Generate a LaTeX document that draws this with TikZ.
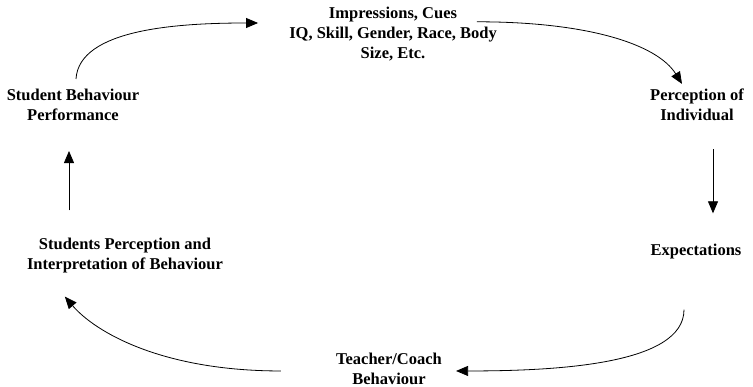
\documentclass[tikz,border=0pt]{standalone}
\usepackage{fontspec}
\setmainfont{Liberation Serif}
\usetikzlibrary{arrows.meta,calc}
\begin{document}
\begin{tikzpicture}[x=1pt,y=-1pt,
  lbl/.style={align=center,font=\bfseries\fontsize{16.5}{20}\selectfont,inner sep=0pt},
  arr/.style={-{Triangle[length=12pt,width=10pt]},line width=0.8pt}]
\useasboundingbox (0,0) rectangle (753,387);
\node[lbl] (imp) at (393,34) {Impressions, Cues\\IQ, Skill, Gender, Race, Body\\Size, Etc.};
\node[lbl] (pi) at (697,105) {Perception of\\Individual};
\node[lbl] (exp) at (696,252) {Expectations};
\node[lbl] (tcb) at (389,369) {Teacher/Coach\\Behaviour};
\node[lbl] (spi) at (125,256) {Students Perception and\\Interpretation of Behaviour};
\node[lbl] (sbp) at (73,105) {Student Behaviour\\Performance};
\draw[arr] ($(sbp.north)+(3,-10)$) .. controls +(3,-50) and +(-80,0) .. ($(imp.west)+(-31,-11)$);
\draw[arr] ($(imp.north east)+(-20,15)$) .. controls +(110,0) and +(-25,-40) .. ($(pi.north)+(-15,-5)$);
\draw[arr] ($(pi.south)+(16,28)$) -- ($(exp.north)+(17,-31)$);
\draw[arr] ($(exp.south)+(-12,50)$) .. controls +(0,55) and +(100,0) .. ($(tcb.north east)+(14,18)$);
\draw[arr] ($(tcb.north west)+(-55,18)$) .. controls +(-120,0) and +(30,35) .. ($(spi.south west)+(38,23)$);
\draw[arr] ($(spi.north)+(-56,-28)$) -- ($(sbp.south)+(-4,30)$);
\end{tikzpicture}
\end{document}
